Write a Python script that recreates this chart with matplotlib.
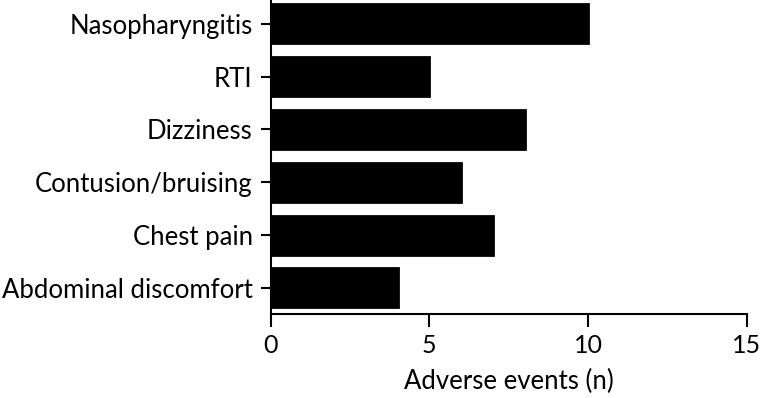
import numpy as np
import matplotlib
matplotlib.use("Agg")
import matplotlib.pyplot as plt

# Adverse events per category
categories = ["Abdominal discomfort", "Chest pain", "Contusion/bruising",
              "Dizziness", "RTI", "Nasopharyngitis"]
events = [4, 7, 6, 8, 5, 10]
x_ticks = [0, 5, 10, 15]

plt.rcParams['font.family'] = ['Lato', 'DejaVu Sans']

fig = plt.figure(figsize=(7.6, 3.98), dpi=100)
ax = fig.add_axes([0.3562, 0.2103, 0.6263, 0.7897])

ypos = np.arange(len(categories))
ax.barh(ypos, events, height=0.74, color="black", edgecolor="black", linewidth=2)

ax.set_xlim(0, 15)
ax.set_ylim(-0.5, 5.45)
ax.set_xticks(x_ticks)
ax.set_yticks(ypos)
ax.set_yticklabels(categories, fontsize=18.5)
ax.set_xlabel("Adverse events (n)", fontsize=18.5, labelpad=9)

for side in ["top", "right"]:
    ax.spines[side].set_visible(False)
for side in ["left", "bottom"]:
    ax.spines[side].set_linewidth(1.5)

ax.tick_params(axis="both", width=1.5, colors="black")
ax.tick_params(axis="x", labelsize=18)
ax.tick_params(axis="y", length=7, pad=6)
ax.tick_params(axis="x", length=9, pad=5)

fig.savefig("out.png", dpi=100)
